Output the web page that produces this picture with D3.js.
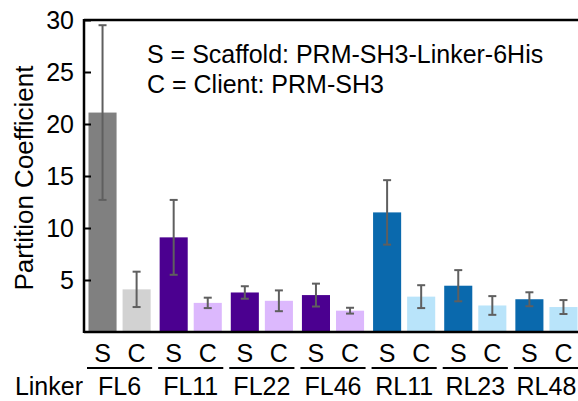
<!DOCTYPE html>
<html>
<head>
<meta charset="utf-8">
<script src="https://cdn.jsdelivr.net/npm/d3@7"></script>
<style>
  html, body { margin: 0; padding: 0; background: #fff; }
  svg { display: block; font-family: "Liberation Sans", Arial, sans-serif; }
</style>
</head>
<body>
<svg id="chart" width="578" height="401"></svg>
<script>
// Linker groups, each with a scaffold (S) and client (C) bar
const linkers = ["FL6", "FL11", "FL22", "FL46", "RL11", "RL23", "RL48"];
const kinds = ["S", "C"];
const scaffoldValues = [21.1, 9.1, 3.8, 3.55, 11.5, 4.45, 3.15];
const scaffoldErrors = [8.4, 3.6, 0.6, 1.1, 3.1, 1.5, 0.67];
const clientValues = [4.1, 2.8, 3.0, 2.05, 3.4, 2.55, 2.4];
const clientErrors = [1.7, 0.5, 1.0, 0.28, 1.1, 0.9, 0.67];
const yTicks = [5, 10, 15, 20, 25, 30];
const legendLines = ["S = Scaffold: PRM-SH3-Linker-6His", "C = Client: PRM-SH3"];

// colours per linker family: [scaffold, client]
const familyColors = {
  FL6: ["#808080", "#d2d2d2"],
  FL: ["#4b0090", "#dcb8fd"],
  RL: ["#0a69ad", "#b9e4fa"]
};
function colorFor(linker, kind) {
  const fam = linker === "FL6" ? "FL6" : linker.slice(0, 2);
  return familyColors[fam][kind === "S" ? 0 : 1];
}

const rows = [];
linkers.forEach((l, i) => {
  rows.push({ linker: l, kind: "S", value: scaffoldValues[i], err: scaffoldErrors[i] });
  rows.push({ linker: l, kind: "C", value: clientValues[i], err: clientErrors[i] });
});

const svg = d3.select("#chart");
const plotLeft = 84, plotRight = 582, plotTop = 20, plotBottom = 332;
const fontSize = 25;

const x0 = d3.scaleBand().domain(linkers).range([plotLeft, plotRight]).padding(0);
const x1 = d3.scaleBand().domain(kinds).range([0, x0.bandwidth()])
  .paddingInner(0.176).paddingOuter(0.132);
const y = d3.scaleLinear().domain([0, 30]).range([plotBottom, plotTop]);

// bars
const bars = svg.append("g");
bars.selectAll("rect").data(rows).join("rect")
  .attr("x", d => x0(d.linker) + x1(d.kind))
  .attr("y", d => y(d.value))
  .attr("width", x1.bandwidth())
  .attr("height", d => y(0) - y(d.value))
  .attr("fill", d => colorFor(d.linker, d.kind));

// error bars
const eb = svg.append("g").attr("stroke", "#5f5f5f").attr("stroke-width", 2);
rows.forEach(d => {
  const cx = x0(d.linker) + x1(d.kind) + x1.bandwidth() / 2;
  const y1 = y(d.value + d.err), y2 = y(d.value - d.err);
  eb.append("line").attr("x1", cx).attr("x2", cx).attr("y1", y1).attr("y2", y2);
  eb.append("line").attr("x1", cx - 4).attr("x2", cx + 4).attr("y1", y1).attr("y2", y1);
  eb.append("line").attr("x1", cx - 4).attr("x2", cx + 4).attr("y1", y2).attr("y2", y2);
});

// y axis with inward ticks
const yAxis = svg.append("g").attr("transform", `translate(${plotLeft},0)`)
  .call(d3.axisLeft(y).tickValues(yTicks).tickSize(-7).tickPadding(10).tickSizeOuter(0));
yAxis.select(".domain").remove();
yAxis.selectAll(".tick line").attr("stroke", "#000").attr("stroke-width", 2);
yAxis.selectAll(".tick text").attr("font-size", fontSize).attr("fill", "#000")
  .attr("font-family", "Liberation Sans, Arial, sans-serif");

// frame lines: left, bottom, top
svg.append("line").attr("x1", plotLeft).attr("x2", plotLeft).attr("y1", plotTop - 1).attr("y2", plotBottom + 1)
  .attr("stroke", "#000").attr("stroke-width", 2.5);
svg.append("line").attr("x1", plotLeft).attr("x2", 578).attr("y1", plotBottom).attr("y2", plotBottom)
  .attr("stroke", "#000").attr("stroke-width", 2.5);
svg.append("line").attr("x1", plotLeft).attr("x2", 578).attr("y1", plotTop).attr("y2", plotTop)
  .attr("stroke", "#000").attr("stroke-width", 2.5);

// y axis title
svg.append("text")
  .attr("transform", `translate(33,178) rotate(-90)`)
  .attr("text-anchor", "middle")
  .attr("font-size", 26)
  .text("Partition Coefficient");

// legend text
svg.append("g").selectAll("text").data(legendLines).join("text")
  .attr("x", 147)
  .attr("y", (d, i) => 63 + i * 30)
  .attr("font-size", fontSize)
  .text(d => d);

// S / C labels under each bar
svg.append("g").selectAll("text").data(rows).join("text")
  .attr("x", d => x0(d.linker) + x1(d.kind) + x1.bandwidth() / 2)
  .attr("y", 362)
  .attr("text-anchor", "middle")
  .attr("font-size", fontSize)
  .text(d => d.kind);

// group underlines
svg.append("g").selectAll("line").data(linkers).join("line")
  .attr("x1", d => x0(d) + 3)
  .attr("x2", d => x0(d) + x0.bandwidth() - 3)
  .attr("y1", 368).attr("y2", 368)
  .attr("stroke", "#000").attr("stroke-width", 2);

// linker names
svg.append("g").selectAll("text").data(linkers).join("text")
  .attr("x", d => x0(d) + x0.bandwidth() / 2)
  .attr("y", 395)
  .attr("text-anchor", "middle")
  .attr("font-size", fontSize)
  .text(d => d);

svg.append("text")
  .attr("x", 83).attr("y", 395)
  .attr("text-anchor", "end")
  .attr("font-size", fontSize)
  .text("Linker");
</script>
</body>
</html>
